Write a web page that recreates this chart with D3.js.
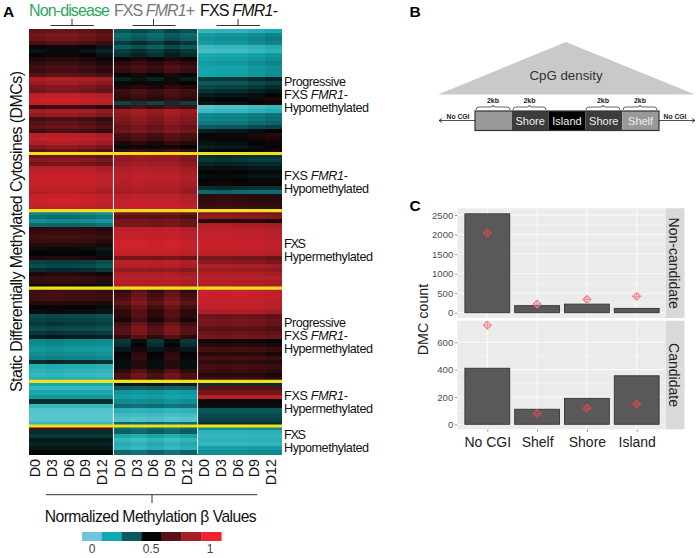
<!DOCTYPE html>
<html><head><meta charset="utf-8">
<script src="https://cdnjs.cloudflare.com/ajax/libs/d3/7.8.5/d3.min.js"></script>
<style>html,body{margin:0;padding:0;background:#fff}svg{display:block}text{font-family:"Liberation Sans",Arial,sans-serif}.soft{filter:blur(.4px)}</style>
</head><body><svg id="c" width="700" height="558"></svg>
<script>
// ---- Panel A data: rows per cluster, one list per condition ----
const days = ["D0","D3","D6","D9","D12"];
const nonDisease = [
 [.68,.72,.70,.64,.50,.47,.50,.55,.58,.62,.60,.66,.84,.80,.74,.72,.88,.92,.90,.60,.82,.78,.62,.66,.68,.62,.86,.90,.84,.76,.68],
 [.70,.76,.72,.86,.90,.92,.92,.92,.90,.86,.92,.94,.92,.88],
 [.24,.28,.22,.30,.58,.60,.62,.60,.56,.48,.50,.55,.38,.36,.42,.55,.60,.58,.50],
 [.60,.62,.62,.56,.50,.48,.36,.38,.40,.36,.40,.45,.24,.22,.20,.22,.24,.42,.14,.12,.10,.14],
 [.16,.10,.16,.20,.42,.10,.05,.04,.04,.10],
 [.64,.42,.40,.46,.44,.46,.50]
];
const fmrPlus = [
 [.35,.30,.32,.40,.33,.40,.42,.52,.58,.62,.60,.52,.45,.50,.55,.62,.60,.58,.38,.62,.80,.78,.76,.74,.70,.72,.64,.62,.56,.50,.60],
 [.78,.78,.80,.84,.86,.88,.88,.86,.84,.82,.88,.90,.92,.92],
 [.72,.66,.72,.72,.88,.90,.90,.94,.94,.94,.90,.72,.88,.86,.78,.84,.88,.86,.84],
 [.62,.66,.68,.72,.66,.62,.62,.58,.66,.70,.70,.62,.44,.46,.50,.54,.55,.52,.52,.62,.68,.66],
 [.45,.32,.20,.18,.22,.28,.12,.08,.05,.30],
 [.30,.32,.16,.10,.14,.12,.30]
];
const fmrMinus = [
 [.12,.20,.22,.20,.10,.08,.16,.18,.20,.18,.18,.18,.40,.34,.38,.42,.46,.50,.48,.06,.10,.24,.25,.27,.34,.46,.52,.50,.48,.46,.50],
 [.42,.40,.44,.47,.50,.48,.50,.52,.42,.30,.58,.58,.60,.60],
 [.74,.78,.56,.84,.88,.90,.90,.92,.92,.92,.88,.72,.76,.84,.80,.84,.88,.86,.84],
 [.92,.92,.92,.90,.90,.84,.70,.72,.72,.66,.70,.72,.52,.56,.62,.56,.62,.58,.62,.60,.56,.60],
 [.42,.66,.72,.86,.52,.48,.34,.36,.38,.42],
 [.22,.12,.10,.12,.10,.18,.22]
];
// per-day difference from the row value, per cluster
const nonDiseaseDayShift = [[0,.02,.02,0,-.03],[0,.01,.01,0,-.03],[0,.01,.01,0,-.02],[0,.01,0,0,-.01],[0,0,0,0,0],[0,0,0,0,0]];
const fmrPlusDayShift = [[-.01,.02,-.01,.03,0],[0,.02,.01,.01,-.03],[.01,.01,0,.01,-.02],[-.04,.04,-.04,.04,-.04],[.01,0,.01,-.01,0],[0,-.02,.01,-.02,.01]];
const fmrMinusDayShift = [[-.01,0,0,.02,.04],[0,.01,0,-.01,-.01],[.01,.01,0,0,-.02],[.01,0,.01,0,-.02],[0,0,0,0,0],[0,0,0,.01,.01]];
const legendValues = [0,0.5,1];
const legendSwatches = ["#6fc6dc","#12a8b2","#0c5a5c","#050505","#5a1216","#a81e28","#ee2430"];
const fmrLine = [["FXS ",0],["FMR1",1],["-",0]];
const clusterLabels = [
 ["Progressive",fmrLine,"Hypomethylated"],
 [fmrLine,"Hypomethylated"],
 ["FXS","Hypermethylated"],
 ["Progressive",fmrLine,"Hypermethylated"],
 [fmrLine,"Hypermethylated"],
 ["FXS","Hypomethylated"]
];
// ---- Panel B ----
const regionNames = ["","Shore","Island","Shore","Shelf"];
// ---- Panel C data ----
const cgiCats = ["No CGI","Shelf","Shore","Island"];
const nonCandBars = [2530,180,220,110];
const nonCandPoints = [2040,220,340,420];
const candBars = [410,110,190,355];
const candPoints = [725,80,118,148];
const nonCandTicks = [0,500,1000,1500,2000,2500];
const candTicks = [0,200,400,600];

const svg = d3.select("#c");
const t = (x,y,s,o={}) => {
  const e=svg.append("text").attr("x",x).attr("y",y).text(s)
  .attr("font-size",o.size||12).attr("fill",o.fill||"#111").attr("text-anchor",o.anchor||"start")
  .attr("font-weight",o.weight||null);
  if(o.len) e.attr("textLength",o.len).attr("lengthAdjust","spacing");
  return e;
};

// ===== A =====
t(3,16.5,"A",{size:15.5,weight:"bold",fill:"#000"});
const color = d3.scaleLinear().domain([0,.17,.33,.5,.67,.83,1])
  .range(["#6ccfd6","#14a5ab","#0b5b5e","#050505","#5a1216","#a81e26","#e0232e"]).clamp(true);
const panelX = [[29.3,112.7],[114,197],[198.3,281.7]];
const bandEnd = 454, bandStart = 29;
const yellowY = [153.5,210.7,288.2,381.3,426];
const matrices = [nonDisease,fmrPlus,fmrMinus];
const shifts = [nonDiseaseDayShift,fmrPlusDayShift,fmrMinusDayShift];
const heat = svg.append("g").attr("class","soft").attr("shape-rendering","crispEdges");
matrices.forEach((m,p)=>{
  const x = d3.scaleBand().domain(days).range(panelX[p]);
  m.forEach((rows,b)=>{
    const top = b===0?bandStart:yellowY[b-1];
    const bot = b===5?bandEnd:yellowY[b];
    const y = d3.scaleBand().domain(d3.range(rows.length)).range([top,bot]);
    rows.forEach((v,r)=>{
      heat.selectAll(null).data(days).join("rect")
        .attr("x",d=>x(d)).attr("width",x.bandwidth()+.5)
        .attr("y",y(r)).attr("height",y.bandwidth()+.5)
        .attr("fill",(d,i)=>color(v+shifts[p][b][i]));
    });
  });
  const g = svg.append("g");
  days.forEach(d=>{
    g.append("text").attr("transform",`translate(${x(d)+x.bandwidth()/2+2.8},459) rotate(-90)`)
     .attr("text-anchor","end").attr("font-size",14.3).attr("fill","#111").text(d);
  });
});
svg.selectAll(null).data([113.4,197.6]).join("line").attr("x1",d=>d).attr("x2",d=>d).attr("y1",29).attr("y2",454)
  .attr("stroke","#e8e8e8").attr("stroke-width",1);
svg.selectAll(null).data(yellowY).join("line").attr("x1",29).attr("x2",282).attr("y1",d=>d).attr("y2",d=>d)
  .attr("stroke","#f3e01c").attr("stroke-width",3.2);

// headers
t(29,15.5,"Non-disease",{size:16,fill:"#2ea55f",len:81});
const h2=t(114,15.5,"FXS ",{size:16,fill:"#777",len:81});h2.append("tspan").attr("font-style","italic").text("FMR1");h2.append("tspan").text("+");
const h3=t(200,15.5,"FXS ",{size:16,fill:"#111",len:78});h3.append("tspan").attr("font-style","italic").text("FMR1");h3.append("tspan").text("-");
[[50.5,94,72],[132.5,175.5,153.5],[216.5,260,238]].forEach(a=>{
  svg.append("path").attr("d",`M${a[0]},25.5H${a[1]}M${a[2]},19V25.5`).attr("stroke","#333").attr("fill","none");
});
svg.append("text").attr("transform","translate(21.5,231.5) rotate(-90)").attr("text-anchor","middle")
  .attr("font-size",16).attr("textLength",321).attr("lengthAdjust","spacing").attr("fill","#111").text("Static Differentially Methylated Cytosines (DMCs)");

// cluster labels
const labelFirst=[85.5,180,248,327,400,439];
const labelLen={"Progressive":62,"Hypomethylated":85,"Hypermethylated":89,"FXS":22};
clusterLabels.forEach((lines,i)=>{
  lines.forEach((ln,j)=>{
    const y=labelFirst[i]+j*13.2;
    if(typeof ln==="string") t(284,y,ln,{size:12.6,len:labelLen[ln]});
    else {
      const tx=t(284,y,"",{size:12.6,len:64});
      ln.forEach(seg=>tx.append("tspan").attr("font-style",seg[1]?"italic":null).text(seg[0]));
    }
  });
});
svg.append("path").attr("d","M45.7,494.7H257.3M152,494.7V503").attr("stroke","#333").attr("fill","none");
t(44.7,521.5,"Normalized Methylation β Values",{size:15.7,len:212});
const lx=d3.scaleBand().domain(d3.range(legendSwatches.length)).range([82,221.3]);
svg.selectAll(null).data(legendSwatches).join("rect").attr("x",(d,i)=>lx(i)).attr("y",532).attr("width",lx.bandwidth()+.3).attr("height",9).attr("fill",d=>d);
const lv=d3.scaleLinear().domain([0,1]).range([92,210]);
legendValues.forEach(v=>t(lv(v),553,String(v),{size:12,anchor:"middle",fill:"#444"}));

// ===== B =====
t(409.5,16.5,"B",{size:15.5,weight:"bold",fill:"#000"});
svg.append("path").attr("d","M566,42L695,94.5H438Z").attr("fill","#c9c9c9");
t(566,80,"CpG density",{size:13.3,anchor:"middle",fill:"#333"});
const bx=d3.scaleBand().domain(d3.range(regionNames.length)).range([475,659]);
const regionFill=["#999","#3c3c3c","#000","#3c3c3c","#999"];
svg.selectAll(null).data(regionNames).join("rect").attr("x",(d,i)=>bx(i)).attr("y",111).attr("width",bx.bandwidth()).attr("height",19.5).attr("fill",(d,i)=>regionFill[i]);
svg.append("rect").attr("x",475).attr("y",111).attr("width",184).attr("height",19.5).attr("fill","none").attr("stroke","#333").attr("stroke-width",1.2);
regionNames.forEach((d,i)=>t(bx(i)+bx.bandwidth()/2,125,d,{size:11,anchor:"middle",fill:"#eee"}));
[[475,439],[659,695]].forEach(a=>{
  const s=a[1]>a[0]?1:-1;
  svg.append("path").attr("d",`M${a[0]},120.5H${a[1]}M${a[1]-s*3},118.5L${a[1]},120.5L${a[1]-s*3},122.5`).attr("stroke","#222").attr("stroke-width",.8).attr("fill","none");
});
t(458,118.5,"No CGI",{size:6.8,anchor:"middle",fill:"#222",weight:"bold"});
t(675,118.5,"No CGI",{size:6.8,anchor:"middle",fill:"#222",weight:"bold"});
[[476,510],[513,546],[586,620],[623,657]].forEach(a=>{
  const m=(a[0]+a[1])/2;
  svg.append("path").attr("d",`M${a[0]},110Q${a[0]},107 ${a[0]+3},107H${m-2}Q${m},107 ${m},105Q${m},107 ${m+2},107H${a[1]-3}Q${a[1]},107 ${a[1]},110`).attr("stroke","#222").attr("stroke-width",.7).attr("fill","none");
  t(m,103,"2kb",{size:7,anchor:"middle",fill:"#222",weight:"bold"});
});

// ===== C =====
t(409.5,211,"C",{size:15.5,weight:"bold",fill:"#000"});
const xL=457.3,xR=665;
const xC=d3.scalePoint().domain(cgiCats).range([487.3,636.7]);
const barW=xC.step()*0.9;
function facet(top,bottom,yScale,ticks,bars,points,name,showX){
  svg.append("rect").attr("x",xL).attr("y",top).attr("width",xR-xL).attr("height",bottom-top).attr("fill","#ebebeb");
  const g=svg.append("g");
  const minor=ticks.slice(0,-1).map((d,i)=>(d+ticks[i+1])/2);
  g.selectAll(null).data(minor).join("line").attr("x1",xL).attr("x2",xR).attr("y1",yScale).attr("y2",yScale).attr("stroke","#fff").attr("stroke-width",.4);
  g.selectAll(null).data(ticks).join("line").attr("x1",xL).attr("x2",xR).attr("y1",yScale).attr("y2",yScale).attr("stroke","#fff").attr("stroke-width",.8);
  g.selectAll(null).data(cgiCats).join("line").attr("x1",xC).attr("x2",xC).attr("y1",top).attr("y2",bottom).attr("stroke","#fff").attr("stroke-width",.8);
  g.selectAll(null).data(bars).join("rect").attr("x",(d,i)=>xC(cgiCats[i])-barW/2).attr("width",barW)
    .attr("y",d=>yScale(d)).attr("height",d=>yScale(0)-yScale(d)).attr("fill","#595959").attr("stroke","#333").attr("stroke-width",.9);
  points.forEach((v,i)=>{
    const pg=g.append("g").attr("transform",`translate(${xC(cgiCats[i])},${yScale(v)})`).attr("fill","none").attr("stroke",v<bars[i]?"#d24a5a":"#ec7f88").attr("stroke-width",.9);
    pg.append("path").attr("d","M0,-4.2L4.2,0L0,4.2L-4.2,0Z");
    pg.append("circle").attr("r",2.8);
    pg.append("path").attr("d","M-4.2,0H4.2M0,-4.2V4.2");
  });
  const ax=d3.axisLeft(yScale).tickValues(ticks).tickSize(2.5).tickPadding(1.5).tickFormat(d3.format("d"));
  const ag=svg.append("g").attr("transform",`translate(${xL},0)`).call(ax);
  ag.select(".domain").remove();
  ag.selectAll("text").attr("font-size",9.6).attr("fill","#4d4d4d").attr("font-family",'"Liberation Sans"');
  ag.selectAll("line").attr("stroke","#555").attr("stroke-width",.6);
  svg.append("rect").attr("x",xR+.5).attr("y",top).attr("width",19).attr("height",bottom-top).attr("fill","#d9d9d9");
  svg.append("text").attr("transform",`translate(${xR+3.5},${(top+bottom)/2}) rotate(90)`).attr("text-anchor","middle").attr("font-size",14).attr("fill","#222").text(name);
  if(showX){
    const xa=d3.axisBottom(xC).tickSize(2.5).tickPadding(5);
    const xg=svg.append("g").attr("transform",`translate(0,${bottom})`).call(xa);
    xg.select(".domain").remove();
    xg.selectAll("text").attr("font-size",14).attr("fill","#222").attr("font-family",'"Liberation Sans"');
    xg.selectAll("line").attr("stroke","#555").attr("stroke-width",.6);
  }
}
const yTop=d3.scaleLinear().domain([0,2500]).range([312.7,215]);
const yBot=d3.scaleLinear().domain([0,600]).range([424.3,342.3]);
facet(208.3,318,yTop,nonCandTicks,nonCandBars,nonCandPoints,"Non-candidate",false);
facet(320.7,429.3,yBot,candTicks,candBars,candPoints,"Candidate",true);
svg.append("text").attr("transform","translate(428,319.5) rotate(-90)").attr("text-anchor","middle").attr("font-size",14.3).attr("fill","#222").text("DMC count");
</script></body></html>
